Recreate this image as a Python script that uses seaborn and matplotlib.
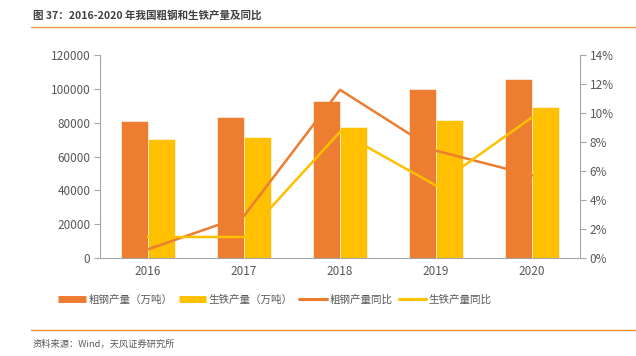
import numpy as np
import pandas as pd
import matplotlib
matplotlib.use("Agg")
import matplotlib.pyplot as plt
from matplotlib.lines import Line2D
import seaborn as sns

# ---- data ----
years = ["2016", "2017", "2018", "2019", "2020"]
steel_output = [80800, 83200, 92800, 99900, 105800]      # 粗钢产量（万吨）
iron_output = [70200, 71400, 77300, 81500, 89200]        # 生铁产量（万吨）
steel_yoy = [0.6, 2.9, 11.6, 7.4, 5.7]                    # 粗钢产量同比 (%)
iron_yoy = [1.45, 1.45, 8.7, 5.0, 9.7]                    # 生铁产量同比 (%)
y_left_ticks = [0, 20000, 40000, 60000, 80000, 100000, 120000]
y_right_ticks = [0, 2, 4, 6, 8, 10, 12, 14]

bar_names = ["粗钢产量（万吨）", "生铁产量（万吨）"]
line_names = ["粗钢产量同比", "生铁产量同比"]
title = "图 37：2016-2020 年我国粗钢和生铁产量及同比"
source = "资料来源：Wind，天风证券研究所"

ORANGE = "#ED7D31"
GOLD = "#FFC000"
GRAY = "#595959"
AXIS = "#A6A6A6"

sns.set_theme(style="white")
plt.rcParams["font.family"] = ["Noto Sans CJK SC", "DejaVu Sans"]

df_bars = pd.DataFrame({
    "year": years * 2,
    "value": steel_output + iron_output,
    "series": [bar_names[0]] * len(years) + [bar_names[1]] * len(years),
})
x_idx = np.arange(len(years))
df_lines = pd.DataFrame({
    "x": np.concatenate([x_idx, x_idx]),
    "value": steel_yoy + iron_yoy,
    "series": [line_names[0]] * len(years) + [line_names[1]] * len(years),
})

fig = plt.figure(figsize=(6.36, 3.56), dpi=100)
ax = fig.add_axes([100 / 636, 1 - 258 / 356, 480 / 636, 203 / 356])

sns.barplot(data=df_bars, x="year", y="value", hue="series", order=years,
            hue_order=bar_names, palette=[ORANGE, GOLD], width=0.57,
            ax=ax, legend=False, saturation=1, edgecolor="white", linewidth=0.4)

ax.set_ylim(0, 120000)
ax.set_xlim(-0.5, len(years) - 0.5)
ax.set_yticks(y_left_ticks)
ax.set_yticklabels([str(v) for v in y_left_ticks], fontsize=8.5, color=GRAY)
ax.set_xticks(x_idx)
ax.set_xticklabels(years, fontsize=8.5, color=GRAY)
ax.set_xticks(np.arange(-0.5, len(years), 1.0), minor=True)
ax.tick_params(axis="x", which="major", length=0, pad=5)
ax.tick_params(axis="x", which="minor", length=4, color=AXIS, width=0.8, direction="out")
ax.tick_params(axis="y", which="major", length=4, color=AXIS, width=0.8, direction="out", pad=3)
ax.set_xlabel("")
ax.set_ylabel("")
for s in ["top", "right"]:
    ax.spines[s].set_visible(False)
for s in ["left", "bottom"]:
    ax.spines[s].set_color(AXIS)
    ax.spines[s].set_linewidth(0.8)

ax2 = ax.twinx()
sns.lineplot(data=df_lines, x="x", y="value", hue="series", hue_order=line_names,
             palette=[ORANGE, GOLD], linewidth=1.8, ax=ax2, legend=False)
ax2.set_ylim(0, 14)
ax2.set_xlim(-0.5, len(years) - 0.5)
ax2.set_yticks(y_right_ticks)
ax2.set_yticklabels([f"{v}%" for v in y_right_ticks], fontsize=8.5, color=GRAY)
ax2.tick_params(axis="y", length=4, color=AXIS, width=0.8, direction="out", pad=3)
ax2.set_ylabel("")
ax2.set_xlabel("")
for s in ["top", "left", "bottom"]:
    ax2.spines[s].set_visible(False)
ax2.spines["right"].set_color(AXIS)
ax2.spines["right"].set_linewidth(0.8)

handles = [
    Line2D([], [], color=ORANGE, lw=5, solid_capstyle="butt"),
    Line2D([], [], color=GOLD, lw=5, solid_capstyle="butt"),
    Line2D([], [], color=ORANGE, lw=2.2),
    Line2D([], [], color=GOLD, lw=2.2),
]
fig.legend(handles, bar_names + line_names, loc="center", ncol=4,
           bbox_to_anchor=(275 / 636, 1 - 300 / 356), frameon=False,
           fontsize=7.6, handlelength=2.6, handletextpad=0.25, columnspacing=0.6,
           labelcolor=GRAY)

# title & separators
fig.text(33 / 636, 1 - 15 / 356, title, fontsize=7.6, fontweight="bold",
         color="#404040", va="center", ha="left")
fig.add_artist(Line2D([31 / 636, 1], [1 - 27 / 356] * 2, color="#EE9A5C", lw=1.0))
fig.add_artist(Line2D([31 / 636, 1], [1 - 330 / 356] * 2, color="#F08A2C", lw=1.0))
fig.text(33 / 636, 1 - 344 / 356, source, fontsize=6.7, color=GRAY,
         va="center", ha="left")

fig.savefig("out.png", dpi=100)
